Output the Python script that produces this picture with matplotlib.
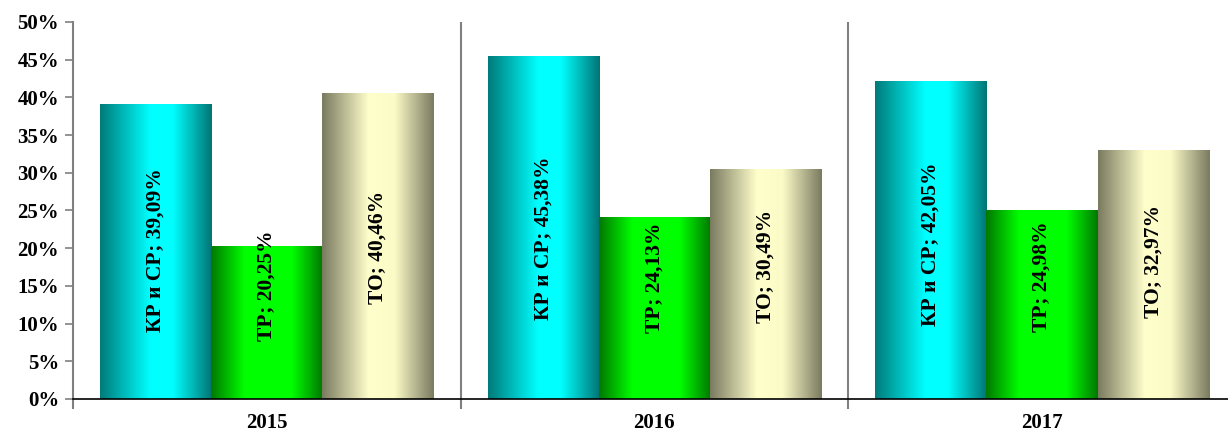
import numpy as np
import matplotlib.pyplot as plt
from matplotlib.colors import LinearSegmentedColormap
from matplotlib.ticker import FixedLocator

plt.rcParams["font.family"] = ["Liberation Serif", "DejaVu Serif"]
plt.rcParams["font.weight"] = "bold"

years = ["2015", "2016", "2017"]
series = ["КР и СР", "ТР", "ТО"]
kr_sr = [39.09, 45.38, 42.05]
tr = [20.25, 24.13, 24.98]
to = [40.46, 30.49, 32.97]
yticks = [0, 5, 10, 15, 20, 25, 30, 35, 40, 45, 50]

# cylinder-like shading: dark edges, light middle
cmaps = [
    LinearSegmentedColormap.from_list("kr", [(0, "#007a7a"), (0.45, "#00ffff"),
                                             (0.65, "#00ffff"), (1, "#007474")]),
    LinearSegmentedColormap.from_list("tr", [(0, "#007800"), (0.3, "#00ff00"),
                                             (0.72, "#00ff00"), (1, "#007800")]),
    LinearSegmentedColormap.from_list("to", [(0, "#7a7a60"), (0.42, "#ffffcc"),
                                             (0.65, "#fbfbc8"), (1, "#7a7a60")]),
]

fig = plt.figure(figsize=(12.28, 4.32), dpi=100)
ax = fig.add_axes([0.0594, 0.0764, 0.9470, 0.8727])

bar_w = 0.287
pad = (1 - 3 * bar_w) / 2
grad = np.linspace(0, 1, 256).reshape(1, -1)

for s, (name, vals) in enumerate(zip(series, [kr_sr, tr, to])):
    for i, v in enumerate(vals):
        x0 = i + pad + s * bar_w
        ax.imshow(grad, extent=[x0, x0 + bar_w, 0, v], aspect="auto",
                  cmap=cmaps[s], interpolation="bicubic", zorder=2)
        label = f"{name}; {v:.2f}%".replace(".", ",")
        ax.text(x0 + bar_w / 2, (v / 2 + 20) / 2, label, rotation=90,
                ha="center", va="center", fontsize=15.5, fontweight="bold",
                zorder=3)

ax.set_xlim(0, 3)
ax.set_ylim(0, 50)
ax.set_yticks(yticks)
ax.set_yticklabels([f"{t}%" for t in yticks], fontsize=15, fontweight="bold")

ax.set_xticks([0.5, 1.5, 2.5])
ax.set_xticklabels(years, fontsize=15, fontweight="bold")
ax.tick_params(axis="x", which="major", length=0, pad=10)
ax.xaxis.set_minor_locator(FixedLocator([0, 1, 2, 3]))
ax.tick_params(axis="x", which="minor", length=7, color="#808080", width=1.5)
ax.tick_params(axis="y", length=6, color="#808080", width=1.2, pad=4)

for b in [1, 2]:
    ax.axvline(b, color="#808080", linewidth=1.5, zorder=1)

for side in ["top", "right"]:
    ax.spines[side].set_visible(False)
ax.spines["left"].set_color("#808080")
ax.spines["left"].set_linewidth(1.5)
ax.spines["bottom"].set_color("black")
ax.spines["bottom"].set_linewidth(1.2)
ax.spines["bottom"].set_zorder(4)

fig.savefig("out.png", dpi=100)
